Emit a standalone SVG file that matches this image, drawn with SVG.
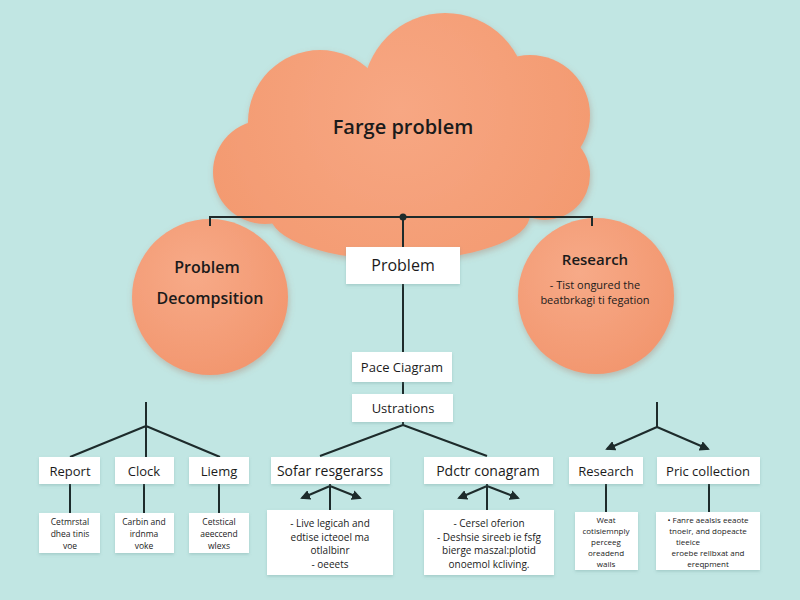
<svg xmlns="http://www.w3.org/2000/svg" width="800" height="600" viewBox="0 0 800 600">
<defs>
<style>
.bg{fill:#c1e6e3}
.box{fill:#ffffff;filter:url(#sh)}
.ln{stroke:#1d2b2b;stroke-width:2;fill:none}
.t{font-family:"Open Sans","Liberation Sans",sans-serif;fill:#1b1b1b;text-anchor:middle}
.t16{font-size:16px}
.t14{font-size:14px}
.t13{font-size:13px}
.t11{font-size:11px}
.t10{font-size:10px}
.t8{font-size:8.5px}
.t7{font-size:8px}
</style>
<filter id="sh" x="-10%" y="-10%" width="120%" height="130%">
<feDropShadow dx="0" dy="1.5" stdDeviation="1.5" flood-color="#5a8a88" flood-opacity="0.3"/>
</filter>
<filter id="bsh" x="-10%" y="-10%" width="120%" height="125%">
<feDropShadow dx="1" dy="3" stdDeviation="3" flood-color="#a46a55" flood-opacity="0.35"/>
</filter>
<radialGradient id="og" cx="40%" cy="35%" r="70%">
<stop offset="0" stop-color="#f7aa88"/>
<stop offset="1" stop-color="#f2966e"/>
</radialGradient>
<radialGradient id="cg" gradientUnits="userSpaceOnUse" cx="400" cy="110" r="220">
<stop offset="0" stop-color="#f7a783"/>
<stop offset="1" stop-color="#f3996f"/>
</radialGradient>
<marker id="ah" viewBox="0 0 10 10" refX="8" refY="5" markerWidth="5" markerHeight="5" orient="auto">
<path d="M0,0 L10,5 L0,10 z" fill="#1d2b2b"/>
</marker>
</defs>
<rect class="bg" x="0" y="0" width="800" height="600"/>

<g id="cloud">
<g fill="url(#cg)" filter="url(#bsh)">
<circle cx="445" cy="95" r="82"/>
<circle cx="320" cy="122" r="72"/>
<circle cx="530" cy="115" r="60"/>
<circle cx="545" cy="175" r="45"/>
<circle cx="265" cy="172" r="52"/>
<ellipse cx="400" cy="180" rx="160" ry="60"/>
<ellipse cx="400" cy="215" rx="130" ry="45"/>
</g>
<text class="t" x="403" y="134" font-size="20" font-weight="600">Farge problem</text>
</g>

<g id="decomp">
<circle cx="210" cy="297" r="78" fill="url(#og)" filter="url(#bsh)"/>
<text class="t t16" x="207" y="273" font-weight="600">Problem</text>
<text class="t t16" x="210" y="304" font-weight="600">Decompsition</text>
</g>

<g id="research-circle">
<circle cx="596" cy="296" r="78" fill="url(#og)" filter="url(#bsh)"/>
<text class="t" x="595" y="265" font-size="15" font-weight="600">Research</text>
<text class="t t11" x="595" y="289">- Tist ongured the</text>
<text class="t t11" x="595" y="304">beatbrkagi ti fegation</text>
</g>

<g id="connectors">
<path class="ln" d="M210,226 V217 H592 V226"/>
<circle cx="403" cy="217" r="3.5" fill="#1d2b2b"/>
<path class="ln" d="M403,217 V248 M403,284 V353 M403,382 V395 M403,422 V425 L320,456 M403,425 L487,456"/>
<path class="ln" d="M146,402 V426 L70,457 M146,426 V457 M146,426 L220,457"/>
<path class="ln" d="M70,484 V513 M144,484 V513 M219,484 V513"/>
<path class="ln" d="M330,484 V510 M487,484 V510"/>
<path class="ln" marker-end="url(#ah)" d="M330,486 L302,498"/>
<path class="ln" marker-end="url(#ah)" d="M330,486 L360,498"/>
<path class="ln" marker-end="url(#ah)" d="M487,486 L459,498"/>
<path class="ln" marker-end="url(#ah)" d="M487,486 L518,498"/>
<path class="ln" d="M657,402 V427"/>
<path class="ln" marker-end="url(#ah)" d="M657,427 L607,449"/>
<path class="ln" marker-end="url(#ah)" d="M657,427 L708,449"/>
<path class="ln" d="M606,484 V512 M709,484 V512"/>
</g>

<g id="problem-box">
<rect class="box" x="346" y="247" width="114" height="37"/>
<text class="t t16" x="403" y="271" font-weight="500">Problem</text>
</g>
<g id="pace">
<rect class="box" x="352" y="352" width="100" height="30"/>
<text class="t t13" x="402" y="372">Pace Ciagram</text>
</g>
<g id="ustrations">
<rect class="box" x="352" y="394" width="101" height="28"/>
<text class="t t13" x="403" y="413">Ustrations</text>
</g>

<g id="report">
<rect class="box" x="39" y="457" width="61" height="27"/>
<text class="t t13" x="70" y="476">Report</text>
</g>
<g id="clock">
<rect class="box" x="115" y="457" width="59" height="27"/>
<text class="t t13" x="144" y="476">Clock</text>
</g>
<g id="liemg">
<rect class="box" x="189" y="457" width="60" height="27"/>
<text class="t t13" x="219" y="476">Liemg</text>
</g>
<g id="report-d">
<rect class="box" x="39" y="513" width="61" height="40"/>
<text class="t t8" x="70" y="525">Cetmrstal</text>
<text class="t t8" x="70" y="537">dhea tinis</text>
<text class="t t8" x="70" y="549">voe</text>
</g>
<g id="clock-d">
<rect class="box" x="115" y="513" width="59" height="40"/>
<text class="t t8" x="144" y="525">Carbin and</text>
<text class="t t8" x="144" y="537">irdnma</text>
<text class="t t8" x="144" y="549">voke</text>
</g>
<g id="liemg-d">
<rect class="box" x="189" y="513" width="60" height="40"/>
<text class="t t8" x="219" y="525">Cetstical</text>
<text class="t t8" x="219" y="537">aeeccend</text>
<text class="t t8" x="219" y="549">wlexs</text>
</g>

<g id="sofar">
<rect class="box" x="271" y="457" width="119" height="27"/>
<text class="t t14" x="330" y="476">Sofar resgerarss</text>
</g>
<g id="pdctr">
<rect class="box" x="424" y="457" width="129" height="27"/>
<text class="t t14" x="488" y="476">Pdctr conagram</text>
</g>
<g id="sofar-d">
<rect class="box" x="267" y="510" width="126" height="65"/>
<text class="t t10" x="330" y="527">- Live legicah and</text>
<text class="t t10" x="330" y="540.5">edtise icteoel ma</text>
<text class="t t10" x="330" y="554">otlalbinr</text>
<text class="t t10" x="330" y="567.5">- oeeets</text>
</g>
<g id="pdctr-d">
<rect class="box" x="424" y="510" width="130" height="65"/>
<text class="t t10" x="489" y="527">- Cersel oferion</text>
<text class="t t10" x="489" y="540.5">- Deshsie sireeb ie fsfg</text>
<text class="t t10" x="489" y="554">bierge maszal:plotid</text>
<text class="t t10" x="489" y="567.5">onoemol kcliving.</text>
</g>

<g id="research-box">
<rect class="box" x="569" y="457" width="74" height="27"/>
<text class="t t13" x="606" y="476">Research</text>
</g>
<g id="pric">
<rect class="box" x="657" y="457" width="103" height="27"/>
<text class="t t13" x="708" y="476">Pric collection</text>
</g>
<g id="research-d">
<rect class="box" x="575" y="512" width="63" height="58"/>
<text class="t t7" x="606" y="523">Weat</text>
<text class="t t7" x="606" y="534">cotisiemnply</text>
<text class="t t7" x="606" y="545">perceeg</text>
<text class="t t7" x="606" y="556">oreadend</text>
<text class="t t7" x="606" y="567">wails</text>
</g>
<g id="pric-d">
<rect class="box" x="656" y="512" width="104" height="58"/>
<text class="t t7" x="708" y="523">• Fanre aealsis eeaote</text>
<text class="t t7" x="708" y="534">tnoeir, and dopeacte</text>
<text class="t t7" x="688" y="545">tieeice</text>
<text class="t t7" x="708" y="556">eroebe rellbxat and</text>
<text class="t t7" x="708" y="567">ereqpment</text>
</g>
</svg>
